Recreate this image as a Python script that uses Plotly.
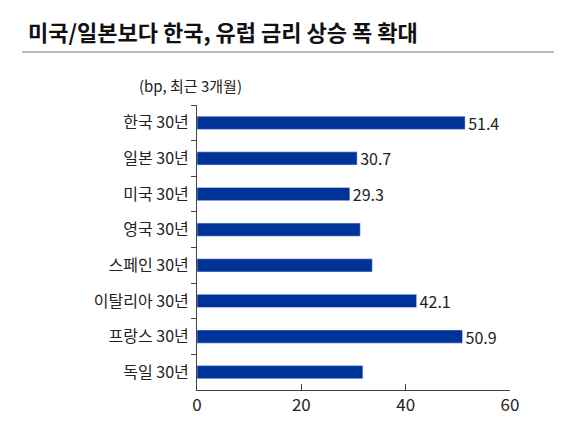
import plotly.graph_objects as go

categories = ['한국 30년', '일본 30년', '미국 30년', '영국 30년', '스페인 30년', '이탈리아 30년', '프랑스 30년', '독일 30년']
values = [51.4, 30.7, 29.3, 31.3, 33.6, 42.1, 50.9, 31.8]
labels = ['51.4', '30.7', '29.3', '', '', '42.1', '50.9', '']
x_ticks = [0, 20, 40, 60]

font_kr = "Noto Sans CJK KR"

fig = go.Figure(go.Bar(
    y=categories, x=values, orientation='h',
    marker_color='#003399',
    text=labels, textposition='outside', cliponaxis=False,
    constraintext='none', textangle=0,
    textfont=dict(size=16, color='#222'),
))

fig.update_layout(
    width=562, height=433,
    margin=dict(l=189, r=60, t=97, b=51, autoexpand=False),
    paper_bgcolor='white', plot_bgcolor='white',
    font=dict(family=font_kr, color='#222'),
    bargap=0.63, showlegend=False,
)
fig.update_yaxes(autorange='reversed', showline=True, linecolor='#444', linewidth=1,
                 ticks='outside', tickson='boundaries', ticklen=5, tickcolor='#444',
                 tickfont=dict(size=16), ticklabelstandoff=4, automargin=False)
fig.update_xaxes(range=[0, 60], tickvals=x_ticks, showline=True, linecolor='#444', linewidth=1,
                 ticks='inside', ticklen=6, tickcolor='#444', showgrid=False,
                 tickfont=dict(size=17), zeroline=False, automargin=False)

# title, unit note and separator lines
fig.add_annotation(text='<b>미국/일본보다 한국, 유럽 금리 상승 폭 확대</b>',
                   xref='paper', yref='paper', x=-171/313, y=1 + 74/285,
                   xanchor='left', yanchor='middle', showarrow=False,
                   font=dict(size=22, color='#111'))
fig.add_annotation(text='(bp, 최근 3개월)', xref='paper', yref='paper',
                   x=-60/313, y=1 + 20/285, xanchor='left', yanchor='middle',
                   showarrow=False, font=dict(size=15))
fig.add_shape(type='line', xref='paper', yref='paper', x0=-175/313, x1=1 + 60/313,
              y0=1 + 53/285, y1=1 + 53/285, line=dict(color='#bbb', width=2))
fig.add_shape(type='line', xref='paper', yref='paper', x0=-189/313, x1=1 + 60/313,
              y0=-47/285, y1=-47/285, line=dict(color='#ccc', width=1))

fig.write_html("out.html")
